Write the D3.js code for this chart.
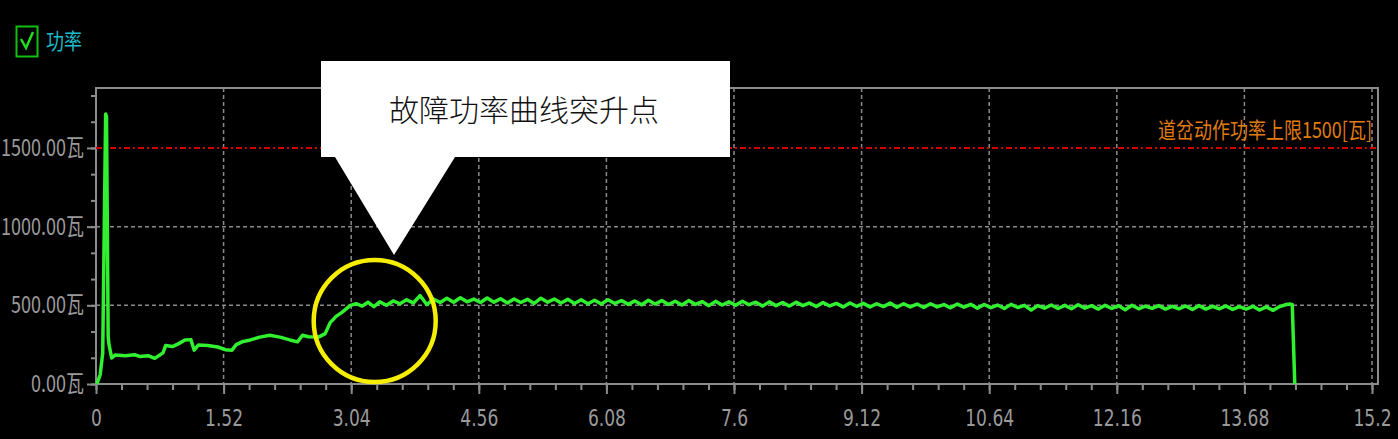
<!DOCTYPE html>
<html>
<head>
<meta charset="utf-8">
<title>功率</title>
<script src="https://d3js.org/d3.v7.min.js"></script>
<style>
  html, body { margin: 0; padding: 0; background: #000; }
  svg { display: block; }
</style>
</head>
<body>
<div class="vis" id="vis"></div>
<script>

  // tick labels
  const xTicks = [0, 1.52, 3.04, 4.56, 6.08, 7.6, 9.12, 10.64, 12.16, 13.68, 15.2];
  const xTickLabels = ["0", "1.52", "3.04", "4.56", "6.08", "7.6", "9.12", "10.64", "12.16", "13.68", "15.2"];
  const yTicks = [0, 500, 1000, 1500];
  const yTickLabels = ["0.00瓦", "500.00瓦", "1000.00瓦", "1500.00瓦"];

  const seriesName = "功率";
  const limitValue = 1500;
  const limitLabel = "道岔动作功率上限1500[瓦]";
  const calloutText = "故障功率曲线突升点";

  // start of the curve: spike, low plateau, then the jump  [time s, power W]
  const startPoints = [
    [0.01, 0], [0.05, 60], [0.08, 197], [0.115, 1716], [0.125, 1700], [0.145, 300],
    [0.155, 250], [0.187, 165], [0.23, 185], [0.35, 180], [0.46, 186], [0.52, 175],
    [0.62, 180], [0.70, 163], [0.76, 184], [0.80, 200], [0.83, 245], [0.91, 238],
    [0.98, 255], [1.06, 280], [1.13, 282], [1.17, 215], [1.22, 248], [1.33, 245],
    [1.45, 235], [1.54, 218], [1.62, 215], [1.67, 250], [1.74, 268], [1.84, 280],
    [1.95, 298], [2.07, 310], [2.19, 298], [2.31, 280], [2.40, 268], [2.46, 310],
    [2.53, 300], [2.65, 298], [2.73, 320], [2.79, 390], [2.86, 430], [2.93, 455],
    [3.03, 500], [3.10, 510], [3.17, 495], [3.24, 520], [3.31, 492]
  ];

  // rippling part after the jump, sampled every 0.08 s from 3.38 s
  const rippleStart = 3.38;
  const rippleStep = 0.08;
  const rippleValues = [
    522, 500, 528, 510, 535, 515, 562, 505, 540, 518,
    545, 520, 548, 522, 540, 518, 546, 520, 542, 515,
    540, 518, 538, 512, 545, 520, 540, 515, 538, 512,
    535, 510, 532, 508, 536, 512, 530, 506, 528, 504,
    532, 508, 530, 505, 526, 502, 530, 506, 524, 498,
    525, 502, 522, 500, 526, 504, 520, 495, 522, 498,
    518, 495, 520, 498, 515, 492, 518, 496, 512, 490,
    515, 494, 512, 490, 510, 492, 514, 488, 510, 490,
    508, 486, 510, 490, 505, 484, 508, 488, 506, 482,
    505, 485, 502, 480, 506, 486, 500, 470, 498, 482,
    502, 480, 500, 478, 504, 482, 498, 476, 500, 480,
    498, 472, 500, 478, 495, 480, 498, 476, 494, 478,
    496, 474, 498, 476, 494, 478, 496, 474, 492, 476,
    494, 470, 490, 468, 492, 505
  ];

  // end of the run: short bump then drop to zero
  const endPoints = [[14.22, 508], [14.25, 506], [14.28, 0]];

  let width = 1398, height = 439;
  let margin = {left: 96, top: 88, right: 1378, bottom: 384};

  let svg = d3.select('.vis').append("svg")
    .attr("width", width)
    .attr("height", height)
    .attr("viewBox", [0, 0, width, height]);

  svg.append("rect").attr("width", width).attr("height", height).attr("fill", "#000");

  let x = d3.scaleLinear().domain([0, 15.2]).range([margin.left, 1372]);
  let y = d3.scaleLinear().domain([0, 1881]).range([margin.bottom, margin.top]);

  let series = startPoints
    .concat(rippleValues.map((v, i) => [rippleStart + i * rippleStep, v]))
    .concat(endPoints);

  //legend
  let legend = svg.append("g");
  legend.append("rect")
    .attr("x", 16.5).attr("y", 26.5).attr("width", 21).attr("height", 30)
    .attr("fill", "none").attr("stroke", "#12c012").attr("stroke-width", 2);
  legend.append("polyline")
    .attr("points", "21,39 26,48 33,32")
    .attr("fill", "none").attr("stroke", "#1ee01e").attr("stroke-width", 2.5);
  legend.append("text")
    .attr("transform", "translate(46,49) scale(1,1.2)")
    .attr("font-family", "'Noto Sans CJK SC', sans-serif")
    .attr("font-size", 18)
    .attr("fill", "#1cbccb")
    .text(seriesName);

  //grid
  svg.append("g").selectAll("line")
    .data(xTicks.slice(1))
    .join("line")
    .attr("x1", d => x(d)).attr("x2", d => x(d))
    .attr("y1", margin.top).attr("y2", margin.bottom)
    .attr("stroke", "#8a8a8a").attr("stroke-width", 1.5)
    .attr("stroke-dasharray", "4,3");

  svg.append("g").selectAll("line")
    .data(yTicks.filter(d => d > 0 && d != limitValue))
    .join("line")
    .attr("x1", margin.left).attr("x2", margin.right)
    .attr("y1", d => y(d)).attr("y2", d => y(d))
    .attr("stroke", "#8a8a8a").attr("stroke-width", 1.5)
    .attr("stroke-dasharray", "4,3");

  //frame
  svg.append("rect")
    .attr("x", margin.left).attr("y", margin.top)
    .attr("width", margin.right - margin.left)
    .attr("height", margin.bottom - margin.top)
    .attr("fill", "none").attr("stroke", "#8c8c8c").attr("stroke-width", 2);

  //axes
  let xMinor = d3.range(0, 15.2 + 1e-6, 0.304);
  let xAxisMinor = svg.append("g")
    .attr("transform", `translate(0,${margin.bottom})`)
    .call(d3.axisBottom(x).tickValues(xMinor).tickSize(6).tickFormat(""));
  let xAxis = svg.append("g")
    .attr("transform", `translate(0,${margin.bottom})`)
    .call(d3.axisBottom(x).tickValues(xTicks).tickSize(10)
      .tickFormat((d, i) => xTickLabels[i]));

  let yMinor = d3.range(0, 1881, 500 / 3);
  let yAxisMinor = svg.append("g")
    .attr("transform", `translate(${margin.left},0)`)
    .call(d3.axisLeft(y).tickValues(yMinor).tickSize(5).tickFormat(""));
  let yAxis = svg.append("g")
    .attr("transform", `translate(${margin.left},0)`)
    .call(d3.axisLeft(y).tickValues(yTicks).tickSize(9).tickPadding(2)
      .tickFormat((d, i) => yTickLabels[i]));

  [xAxisMinor, xAxis, yAxisMinor, yAxis].forEach(a => {
    a.select(".domain").remove();
    a.selectAll(".tick line").attr("stroke", "#8c8c8c").attr("stroke-width", 2);
  });

  // tall, narrow look of the original axis font
  xAxis.selectAll(".tick text")
    .attr("font-family", "'Liberation Sans Narrow', 'DejaVu Sans Condensed', sans-serif")
    .attr("font-size", 19)
    .attr("fill", "#9a9a9a")
    .attr("y", 33.5).attr("dy", 0)
    .attr("transform", "scale(1,1.25)");

  yAxis.selectAll(".tick text")
    .attr("font-family", "'Liberation Sans Narrow', 'Noto Sans CJK SC', sans-serif")
    .attr("font-size", 18)
    .attr("fill", "#9a9a9a")
    .attr("x", -12)
    .attr("dy", "0.32em")
    .attr("transform", "scale(1,1.3)");

  //limit line
  svg.append("line")
    .attr("x1", margin.left).attr("x2", margin.right)
    .attr("y1", y(limitValue)).attr("y2", y(limitValue))
    .attr("stroke", "#d40000").attr("stroke-width", 2)
    .attr("stroke-dasharray", "6,3,2,3");

  svg.append("text")
    .attr("transform", `translate(${x(15.2)},${y(limitValue) - 10}) scale(1,1.2)`)
    .attr("text-anchor", "end")
    .attr("font-family", "'Noto Sans CJK SC', sans-serif")
    .attr("font-size", 18)
    .attr("fill", "#e07c10")
    .text(limitLabel);

  //power curve
  let line = d3.line().x(d => x(d[0])).y(d => y(d[1]));
  svg.append("path")
    .datum(series)
    .attr("d", line)
    .attr("fill", "none")
    .attr("stroke", "#30f030")
    .attr("stroke-width", 3.5)
    .attr("stroke-linejoin", "round");

  //highlight circle
  svg.append("circle")
    .attr("cx", x(3.32)).attr("cy", y(400))
    .attr("r", 61)
    .attr("fill", "none")
    .attr("stroke", "#f6ee00")
    .attr("stroke-width", 4.5);

  //callout box with pointer
  let tip = [x(3.55), y(820)];
  let callout = svg.append("g");
  callout.append("path")
    .attr("d", `M321,61 H730 V157 H455 L${tip[0]},${tip[1]} L335,157 H321 Z`)
    .attr("fill", "#ffffff");
  callout.append("text")
    .attr("x", 389).attr("y", 121)
    .attr("font-family", "'Noto Sans CJK SC', serif")
    .attr("font-weight", 300)
    .attr("font-size", 30)
    .attr("fill", "#111")
    .text(calloutText);

</script>
</body>
</html>
